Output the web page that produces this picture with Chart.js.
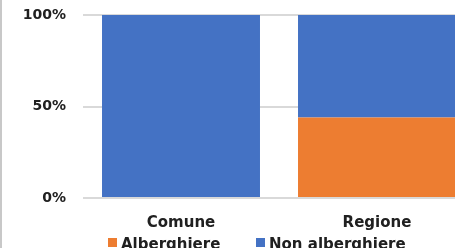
<!DOCTYPE html>
<html>
<head>
<meta charset="utf-8">
<script src="https://cdn.jsdelivr.net/npm/chart.js@4"></script>
<style>
  html, body { margin: 0; padding: 0; background: #fff; overflow: hidden; }
  #wrap { position: relative; width: 455px; height: 248px; overflow: hidden; font-family: 'DejaVu Sans'; }
  #myChart { position: absolute; left: 0; top: 0; }
  #bordo { position: absolute; left: 0; top: 0; width: 2px; height: 248px; background: #c8c8c8; }
  .leg { position: absolute; top: 234.5px; font-size: 15px; font-weight: bold; color: #202020; line-height: 18px; white-space: nowrap; }
  .leg i { position: absolute; left: -13px; top: 3.5px; width: 9px; height: 9px; }
</style>
</head>
<body>
<div id="wrap">
  <canvas id="myChart" width="475" height="248"></canvas>
  <div id="bordo"></div>
  <div id="legenda"></div>
</div>
<script>
// Dati (quota percentuale)
const categorie = ['Comune', 'Regione'];
const alberghiere = [0, 44];
const nonAlberghiere = [100, 56];
const tickY = [0, 50, 100];

document.addEventListener('DOMContentLoaded', function () {
    const ctx = document.getElementById('myChart').getContext('2d');
    const font = 'DejaVu Sans';

    const chart = new Chart(ctx, {
        type: 'bar',
        data: {
            labels: categorie,
            datasets: [{
                label: 'Alberghiere',
                data: alberghiere,
                backgroundColor: '#ED7D31',
                borderWidth: 0,
                barPercentage: 0.806,
                categoryPercentage: 1
            }, {
                label: 'Non alberghiere',
                data: nonAlberghiere,
                backgroundColor: '#4472C4',
                borderWidth: 0,
                barPercentage: 0.806,
                categoryPercentage: 1
            }]
        },
        options: {
            responsive: false,
            animation: false,
            layout: { padding: { left: 20, right: 0, top: 0, bottom: 0 } },
            plugins: {
                tooltip: { enabled: false },
                legend: { display: false }
            },
            scales: {
                x: {
                    stacked: true,
                    grid: { display: false, drawTicks: false },
                    border: { display: false },
                    afterFit: function (s) { s.height = 50; },
                    ticks: {
                        padding: 16,
                        color: '#202020',
                        font: { family: font, size: 15, weight: 'bold' }
                    }
                },
                y: {
                    stacked: true,
                    min: 0,
                    max: 100,
                    afterFit: function (s) {
                        s.width = 63;
                        s.paddingTop = 15;   // area del grafico che parte da y = 15
                        s.paddingBottom = 0;
                    },
                    afterBuildTicks: function (s) { s.ticks = tickY.map(v => ({ value: v })); },
                    grid: { color: '#d9d9d9', lineWidth: 2, drawTicks: false },
                    border: { display: false },
                    ticks: {
                        padding: 17,
                        color: '#202020',
                        font: { family: font, size: 14, weight: 'bold' },
                        callback: v => v + '%'
                    }
                }
            }
        }
    });

    // legenda sotto il grafico, con i colori dei dataset
    const posX = [121, 269];
    const box = document.getElementById('legenda');
    chart.data.datasets.forEach((ds, i) => {
        const el = document.createElement('div');
        el.className = 'leg';
        el.style.left = posX[i] + 'px';
        el.innerHTML = '<i style="background:' + ds.backgroundColor + '"></i>' + ds.label;
        box.appendChild(el);
    });
});
</script>
</body>
</html>
